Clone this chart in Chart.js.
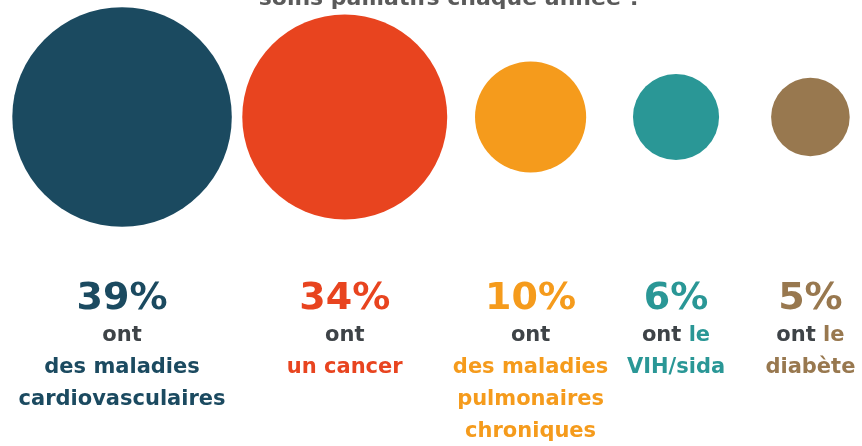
<!DOCTYPE html>
<html lang="fr">
<head>
  <meta charset="UTF-8">
  <title>Soins palliatifs</title>
  <script src="https://cdn.jsdelivr.net/npm/chart.js"></script>
  <style>
    html, body { margin: 0; padding: 0; background: #fff; }
    #cadre { width: 862px; height: 446px; }
  </style>
</head>
<body>
  <div id="cadre"><canvas id="graphique"></canvas></div>

  <script>
    const pourcentages = [39, 34, 10, 6, 5];
    const articles = ['', '', '', 'le', 'le'];
    const maladies = [
      ['des maladies', 'cardiovasculaires'],
      ['un cancer'],
      ['des maladies', 'pulmonaires', 'chroniques'],
      ['VIH/sida'],
      ['diabète']
    ];
    const couleurs = ['#1b4a60', '#e8441f', '#f59b1c', '#2a9796', '#98784f'];
    const titre = 'soins palliatifs chaque année ?';

    // surface des bulles proportionnelle au pourcentage : rayon = racine(valeur) en unités de x
    // les grosses bulles sont plus serrées que les petites
    const marge = 0.7;
    const rayons = pourcentages.map(v => Math.sqrt(v));
    const points = [];
    let cx = marge + rayons[0];
    rayons.forEach((r, i) => {
      if (i > 0) cx += 4.46 + 0.68 * (rayons[i - 1] + r);
      points.push({ x: cx, y: 0 });
    });
    const xMax = cx + rayons[rayons.length - 1] + marge;

    const police = 'bold %spx "DejaVu Sans"';
    const gris = '#3e4347';

    function pxParUnite(chart) {
      const s = chart.scales.x;
      if (!s || !chart.chartArea) return 0;
      return s.getPixelForValue(1) - s.getPixelForValue(0);
    }

    // textes sous les bulles + titre coupé en haut
    const etiquettes = {
      id: 'etiquettes',
      afterDraw(chart) {
        const ctx = chart.ctx;
        const base = chart.chartArea.bottom;
        const meta = chart.getDatasetMeta(0);
        ctx.save();
        ctx.textBaseline = 'alphabetic';

        ctx.textAlign = 'center';
        ctx.font = police.replace('%s', 22);
        ctx.fillStyle = '#5a5a5a';
        ctx.fillText(titre, 450, 5);

        meta.data.forEach((pt, i) => {
          const x = pt.x;
          ctx.textAlign = 'center';
          ctx.fillStyle = couleurs[i];
          ctx.font = police.replace('%s', 38);
          ctx.fillText(pourcentages[i] + '%', x, base + 75);

          ctx.font = police.replace('%s', 21);
          // ligne "ont" (+ article en couleur)
          const a = articles[i] ? ' ' + articles[i] : '';
          const w1 = ctx.measureText('ont').width;
          const w2 = ctx.measureText(a).width;
          let gx = x - (w1 + w2) / 2;
          ctx.textAlign = 'left';
          ctx.fillStyle = gris;
          ctx.fillText('ont', gx, base + 107);
          ctx.fillStyle = couleurs[i];
          ctx.fillText(a, gx + w1, base + 107);

          ctx.textAlign = 'center';
          maladies[i].forEach((ligne, j) => {
            ctx.fillText(ligne, x, base + 139 + j * 32);
          });
        });
        ctx.restore();
      }
    };

    new Chart(document.getElementById('graphique'), {
      type: 'scatter',
      data: {
        datasets: [{
          data: points,
          backgroundColor: couleurs,
          borderWidth: 0,
          showLine: false,
          clip: false,
          pointRadius: c => rayons[c.dataIndex] * pxParUnite(c.chart),
          pointHoverRadius: c => rayons[c.dataIndex] * pxParUnite(c.chart),
          pointBorderWidth: 0,
          pointHoverBorderWidth: 0
        }]
      },
      options: {
        responsive: true,
        maintainAspectRatio: false,
        animation: false,
        events: [],
        layout: { padding: { left: 0, right: 0, top: 0, bottom: 212 } },
        scales: {
          x: { type: 'linear', display: false, min: 0, max: xMax },
          y: { display: false, min: -1, max: 1 }
        },
        plugins: {
          legend: { display: false },
          tooltip: { enabled: false }
        }
      },
      plugins: [etiquettes]
    });
  </script>
</body>
</html>
